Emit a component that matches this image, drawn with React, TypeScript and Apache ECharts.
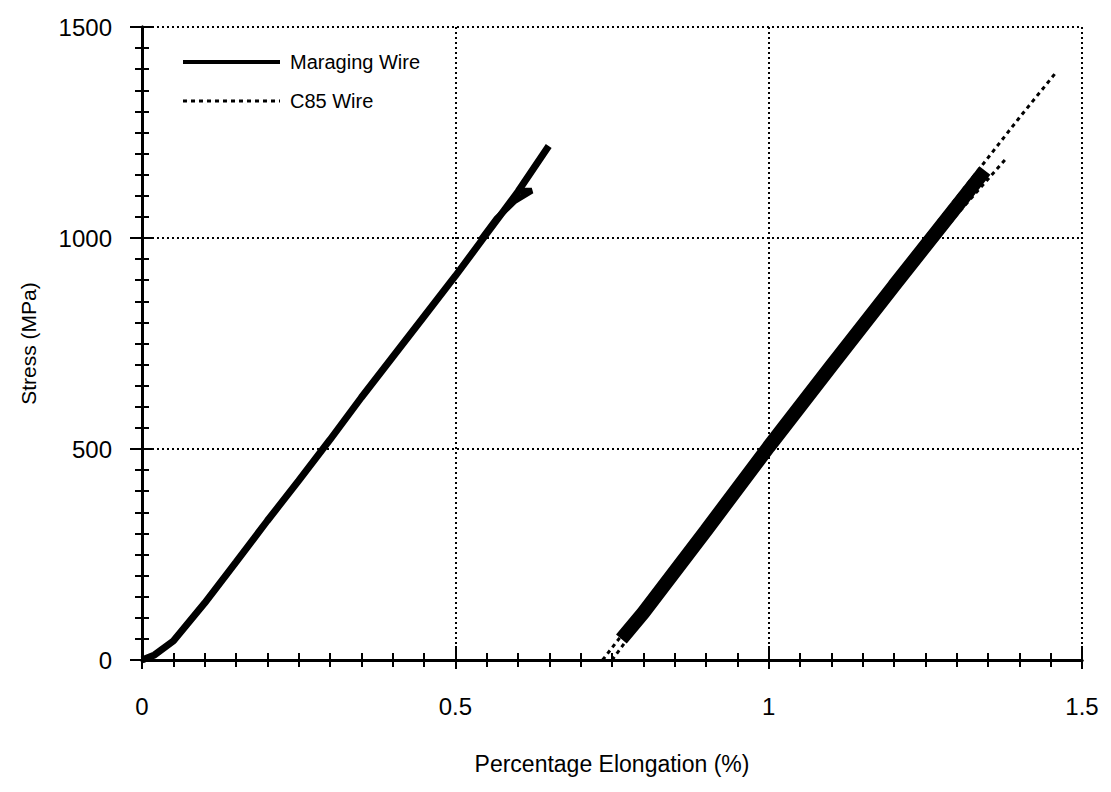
import React, { useEffect, useRef } from "react";
import * as echarts from "echarts";

// Maraging wire: loading branch
const MARAGING_X = [0, 0.02, 0.05, 0.1, 0.15, 0.2, 0.25, 0.3, 0.35, 0.4, 0.45, 0.5, 0.55, 0.6, 0.649];
const MARAGING_Y = [0, 12, 45, 135, 232, 330, 425, 522, 622, 718, 814, 910, 1010, 1110, 1218];
// Maraging wire: unloading wedge
const MAR_UNLOAD_X = [0.54, 0.565, 0.595, 0.622, 0.598];
const MAR_UNLOAD_Y = [995, 1045, 1088, 1112, 1112];

// C85 wire: upper (loading) edge
const C85_UP_X = [0.735, 0.8, 0.9, 1.0, 1.1, 1.2, 1.3, 1.4, 1.46];
const C85_UP_Y = [0, 125, 320, 520, 715, 905, 1095, 1285, 1395];
// C85 wire: lower (unloading) edge
const C85_LO_X = [0.75, 0.8, 0.9, 1.0, 1.1, 1.2, 1.3, 1.38];
const C85_LO_Y = [0, 100, 295, 490, 680, 870, 1055, 1190];
// C85 wire: dense cycling band
const C85_BAND_X = [0.765, 0.8, 0.9, 1.0, 1.1, 1.2, 1.3, 1.345];
const C85_BAND_Y = [50, 112, 307, 505, 697, 887, 1075, 1160];

const X_TICKS = [0, 0.5, 1, 1.5];
const Y_TICKS = [0, 500, 1000, 1500];
const LEGEND_NAMES = ["Maraging Wire", "C85 Wire"];

const zip = (xs: number[], ys: number[]) => xs.map((x, i) => [x, ys[i]]);

const FONT = "'Liberation Sans', Arial, sans-serif";

export default function App() {
  const ref = useRef<HTMLDivElement>(null);
  useEffect(() => {
    if (!ref.current) return;
    const chart = echarts.init(ref.current, undefined, { renderer: "svg" });
    const axisLine = { show: true, lineStyle: { color: "#000", width: 3 } };
    const minorTick = { show: true, splitNumber: 10, length: 7, lineStyle: { color: "#000", width: 2 } };
    const gridLine = { show: true, lineStyle: { type: [2, 3] as any, color: "#000", width: 2 } };
    chart.setOption({
      animation: false,
      backgroundColor: "#fff",
      grid: { left: 142, right: 29, top: 27, bottom: 132 },
      graphic: [
        {
          type: "line",
          shape: { x1: 183, y1: 62, x2: 280, y2: 62 },
          style: { stroke: "#000", lineWidth: 4 },
        },
        {
          type: "text",
          x: 290,
          y: 62,
          style: { text: LEGEND_NAMES[0], fontSize: 20, fontFamily: FONT, fill: "#000", verticalAlign: "middle" },
        },
        {
          type: "line",
          shape: { x1: 183, y1: 101, x2: 280, y2: 101 },
          style: { stroke: "#000", lineWidth: 3, lineDash: [4, 4] },
        },
        {
          type: "text",
          x: 290,
          y: 101,
          style: { text: LEGEND_NAMES[1], fontSize: 20, fontFamily: FONT, fill: "#000", verticalAlign: "middle" },
        },
      ],
      xAxis: [
        {
          type: "value",
          min: X_TICKS[0],
          max: X_TICKS[X_TICKS.length - 1],
          interval: 0.5,
          position: "bottom",
          axisLine,
          axisTick: { show: true, inside: true, length: 14, lineStyle: { color: "#000", width: 2 } },
          minorTick,
          splitLine: gridLine,
          axisLabel: { margin: 34, fontSize: 24, color: "#000", fontFamily: FONT, formatter: (v: number) => String(v) },
          name: "Percentage Elongation (%)",
          nameLocation: "middle",
          nameGap: 92,
          nameTextStyle: { fontSize: 23, color: "#000", fontFamily: FONT },
        },
        {
          type: "value",
          min: X_TICKS[0],
          max: X_TICKS[X_TICKS.length - 1],
          interval: 0.5,
          position: "top",
          axisLine,
          axisTick: { show: true, inside: true, length: 9, lineStyle: { color: "#000", width: 2 } },
          minorTick,
          splitLine: { show: false },
          axisLabel: { show: false },
        },
      ],
      yAxis: [
        {
          type: "value",
          min: Y_TICKS[0],
          max: Y_TICKS[Y_TICKS.length - 1],
          interval: 500,
          position: "left",
          axisLine,
          axisTick: { show: true, inside: true, length: 12, lineStyle: { color: "#000", width: 2 } },
          minorTick,
          splitLine: gridLine,
          axisLabel: { margin: 30, fontSize: 24, color: "#000", fontFamily: FONT, formatter: (v: number) => String(v) },
          name: "Stress (MPa)",
          nameLocation: "middle",
          nameGap: 103,
          nameTextStyle: { fontSize: 21, color: "#000", fontFamily: FONT },
        },
        {
          type: "value",
          min: Y_TICKS[0],
          max: Y_TICKS[Y_TICKS.length - 1],
          interval: 500,
          position: "right",
          axisLine,
          axisTick: { show: true, inside: true, length: 12, lineStyle: { color: "#000", width: 2 } },
          minorTick,
          splitLine: { show: false },
          axisLabel: { show: false },
        },
      ],
      series: [
        {
          name: LEGEND_NAMES[0],
          type: "line",
          symbol: "none",
          data: zip(MARAGING_X, MARAGING_Y),
          lineStyle: { color: "#000", width: 7, type: "solid" },
          itemStyle: { color: "#000" },
        },
        {
          name: LEGEND_NAMES[0],
          type: "line",
          symbol: "none",
          data: zip(MAR_UNLOAD_X, MAR_UNLOAD_Y),
          lineStyle: { color: "#000", width: 6, type: "solid" },
          itemStyle: { color: "#000" },
        },
        {
          name: LEGEND_NAMES[1],
          type: "line",
          symbol: "none",
          data: zip(C85_UP_X, C85_UP_Y),
          lineStyle: { color: "#000", width: 3, type: [4, 4] },
          itemStyle: { color: "#000" },
        },
        {
          name: LEGEND_NAMES[1],
          type: "line",
          symbol: "none",
          data: zip(C85_LO_X, C85_LO_Y),
          lineStyle: { color: "#000", width: 3, type: [4, 4] },
          itemStyle: { color: "#000" },
        },
        {
          name: "C85 band",
          type: "line",
          symbol: "none",
          data: zip(C85_BAND_X, C85_BAND_Y),
          lineStyle: { color: "#000", width: 14, type: "solid" },
          itemStyle: { color: "#000" },
        },
      ],
    });
    return () => chart.dispose();
  }, []);
  return (
    <div
      ref={ref}
      style={{ position: "fixed", left: 0, top: 0, width: 1111, height: 792, background: "#fff" }}
    />
  );
}
